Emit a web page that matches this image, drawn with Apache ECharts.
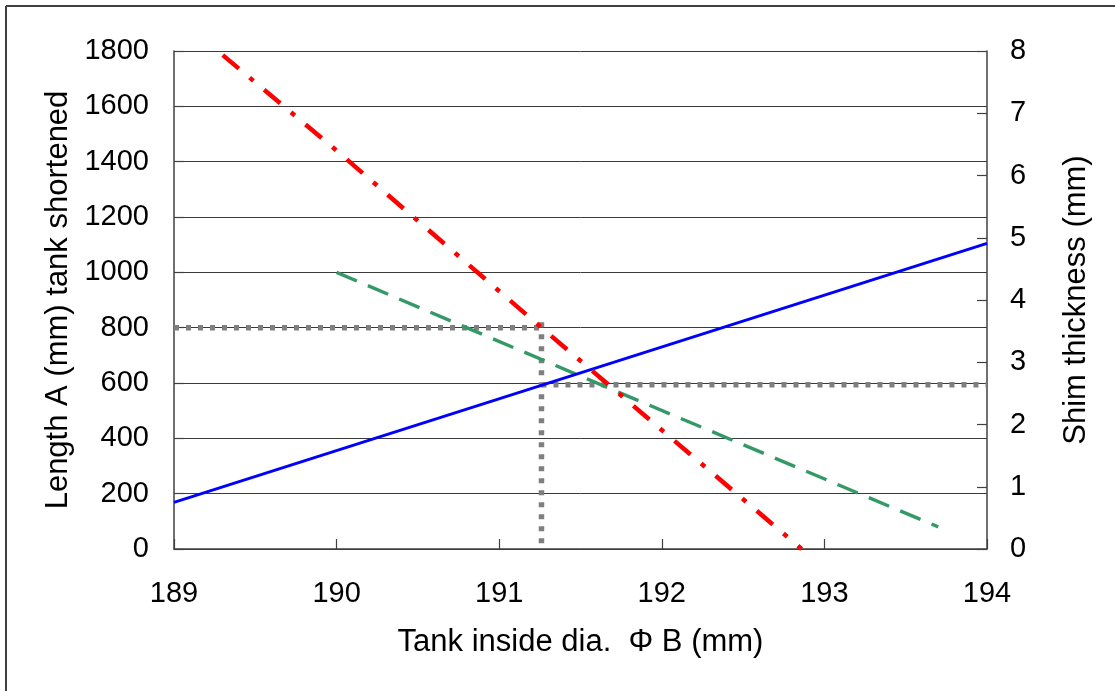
<!DOCTYPE html>
<html>
<head>
<meta charset="utf-8">
<script src="https://cdn.jsdelivr.net/npm/echarts@6/dist/echarts.min.js"></script>
<style>
html,body{margin:0;padding:0;background:#fff;}
#chart{width:1115px;height:691px;}
</style>
</head>
<body>
<div id="chart"></div>
<script>
// Axis settings (values)
const xMin = 189, xMax = 194, xStep = 1;
const leftMin = 0, leftMax = 1800, leftStep = 200;
const rightMin = 0, rightMax = 8, rightStep = 1;

// Series data: [tank inside dia. B (mm), value]
const lengthA = [[189.30, 1785], [190.00, 1440], [191.26, 800], [192.86, 0]];      // red, left axis
const greenLine = [[190.00, 1000], [191.70, 575], [193.70, 80]];                    // green, left axis
const shimThickness = [[189.00, 0.75], [194.00, 4.91]];                              // blue, right axis
const guideLengthA = [[189.00, 800], [191.26, 800]];                                 // gray dotted, left axis
const guideVertical = [[191.26, 820], [191.26, 0]];                                  // gray dotted, left axis
const guideShim = [[191.26, 2.64], [194.00, 2.64]];                                  // gray dotted, right axis

const xTitle = 'Tank inside dia.  Φ B (mm)';
const leftTitle = 'Length A (mm) tank shortened';
const rightTitle = 'Shim thickness (mm)';

const chart = echarts.init(document.getElementById('chart'), null, {renderer: 'canvas'});
const axisLineStyle = {color: '#404040', width: 1.5};
const tickFont = {fontFamily: 'Liberation Sans, Arial, sans-serif', fontSize: 29, color: '#000'};
const titleFont = {fontFamily: 'Liberation Sans, Arial, sans-serif', fontSize: 31, color: '#000'};
const plain = function (v) { return String(v); };

function guide(data, yIdx) {
  return {
    type: 'line', data: data, yAxisIndex: yIdx, showSymbol: false, symbol: 'none', silent: true,
    lineStyle: {color: '#7f7f7f', width: 5.5, type: [5, 7], cap: 'butt'}, z: 1
  };
}

chart.setOption({
  animation: false,
  backgroundColor: '#fff',
  grid: {left: 174, right: 128, top: 51, bottom: 142, containLabel: false},
  xAxis: {
    type: 'value', min: xMin, max: xMax, interval: xStep,
    name: xTitle, nameLocation: 'middle', nameGap: 78, nameTextStyle: titleFont,
    axisLine: {show: true, lineStyle: axisLineStyle},
    axisTick: {show: true, inside: true, length: 10, lineStyle: {color: '#404040', width: 1.2}},
    axisLabel: Object.assign({margin: 30, formatter: plain}, tickFont),
    splitLine: {show: false}
  },
  yAxis: [
    {
      type: 'value', min: leftMin, max: leftMax, interval: leftStep, position: 'left',
      name: leftTitle, nameLocation: 'middle', nameGap: 100, nameTextStyle: titleFont,
      axisLine: {show: true, lineStyle: axisLineStyle},
      axisTick: {show: true, inside: true, length: 10, lineStyle: {color: '#404040', width: 1.2}},
      axisLabel: Object.assign({margin: 25, formatter: plain}, tickFont),
      splitLine: {show: true, lineStyle: {color: '#3a3a3a', width: 1}}
    },
    {
      type: 'value', min: rightMin, max: rightMax, interval: rightStep, position: 'right',
      name: rightTitle, nameLocation: 'middle', nameGap: 74, nameTextStyle: titleFont,
      axisLine: {show: true, lineStyle: axisLineStyle},
      axisTick: {show: true, inside: true, length: 10, lineStyle: {color: '#404040', width: 1.2}},
      axisLabel: Object.assign({margin: 23, formatter: plain}, tickFont),
      splitLine: {show: false}
    }
  ],
  series: [
    guide(guideLengthA, 0),
    guide(guideVertical, 0),
    guide(guideShim, 1),
    {
      name: 'Shim thickness', type: 'line', data: shimThickness, yAxisIndex: 1,
      showSymbol: false, symbol: 'none', lineStyle: {color: '#0000ff', width: 3}, z: 3
    },
    {
      name: 'Green', type: 'line', data: greenLine, yAxisIndex: 0,
      showSymbol: false, symbol: 'none', lineStyle: {color: '#339966', width: 3.4, type: [22, 12], cap: 'butt'}, z: 2
    },
    {
      name: 'Length A', type: 'line', data: lengthA, yAxisIndex: 0,
      showSymbol: false, symbol: 'none', lineStyle: {color: '#ff0000', width: 4.5, type: [21, 14, 5, 14], cap: 'butt'}, z: 4
    }
  ],
  graphic: [
    {type: 'line', shape: {x1: 6, y1: 6, x2: 1115, y2: 6}, style: {stroke: '#404040', lineWidth: 2}, silent: true},
    {type: 'line', shape: {x1: 6, y1: 6, x2: 6, y2: 691}, style: {stroke: '#404040', lineWidth: 2}, silent: true}
  ]
});
</script>
</body>
</html>
